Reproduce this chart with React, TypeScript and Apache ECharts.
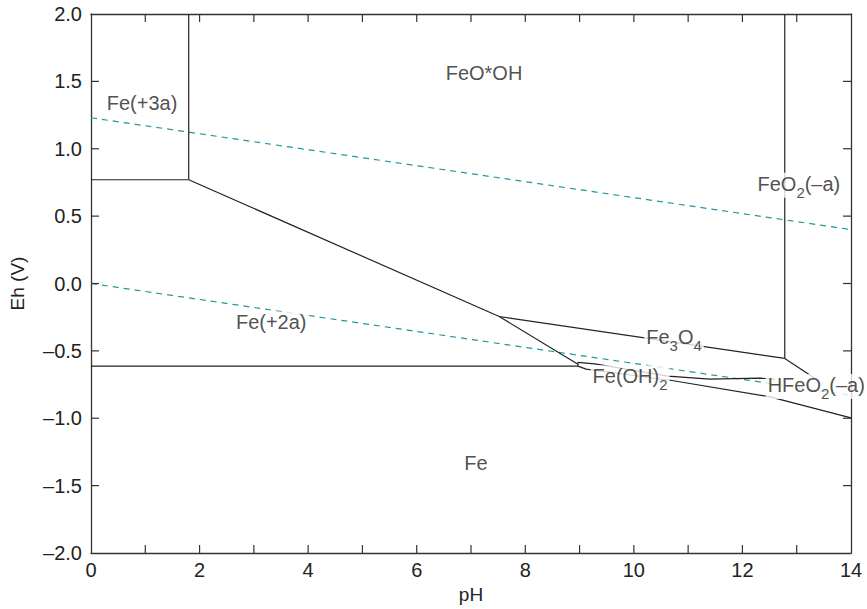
import React, { useEffect, useRef } from "react";
import * as echarts from "echarts";

// Boundaries of the Fe–H2O Pourbaix diagram: [pH, Eh (V)]
const fe3FeoohBoundary = [[1.8, 2.0], [1.8, 0.77]];
const fe3Fe2Boundary = [[0, 0.77], [1.8, 0.77]];
const fe2OxideBoundary = [[1.8, 0.77], [7.52, -0.245], [8.97, -0.6]];
const fe2FeBoundary = [[0, -0.613], [8.97, -0.613]];
const fe2FeOH2Boundary = [[8.97, -0.585], [8.97, -0.613]];
const magnetiteFeoohBoundary = [[7.52, -0.245], [12.78, -0.556]];
const feoohFeo2Boundary = [[12.78, 2.0], [12.78, -0.556]];
const magnetiteHfeo2Boundary = [[12.78, -0.556], [13.36, -0.71]];
const magnetiteFeOH2Boundary = [[8.97, -0.585], [9.28, -0.597], [10.63, -0.687], [11.4, -0.709], [12.32, -0.702], [12.6, -0.71]];
const feLowerBoundary = [[8.97, -0.613], [9.12, -0.635], [10.7, -0.72], [12.51, -0.841], [14.0, -0.997]];

// Water stability limits
const o2WaterLine = [[0, 1.23], [14, 0.4]];
const h2WaterLine = [[0, 0.0], [14, -0.83]];

// Tick values (inward ticks on all four sides)
const pHTicks = [1, 2, 3, 4, 5, 6, 7, 8, 9, 10, 11, 12, 13];
const ehTicks = [-1.5, -1.0, -0.5, 0.0, 0.5, 1.0, 1.5];

// Field labels: [pH, Eh, rich text]
const fieldLabels: [number, number, string][] = [
  [7.24, 1.55, "{n|FeO*OH}"],
  [0.94, 1.33, "{n|Fe(+3a)}"],
  [13.04, 0.73, "{n|FeO}{s|2}{n|(–a)}"],
  [3.32, -0.3, "{n|Fe(+2a)}"],
  [10.74, -0.41, "{n|Fe}{s|3}{n|O}{s|4}"],
  [9.93, -0.7, "{n|Fe(OH)}{s|2}"],
  [13.36, -0.765, "{n|HFeO}{s|2}{n|(–a)}"],
  [7.09, -1.34, "{n|Fe}"],
];

const FONT = "Liberation Sans, Arial, Helvetica, sans-serif";
const INK = "#222";
const TEAL = "#1f9a98";
const TICK_LEN = 8;

const fmtNum = (v: number, d: number) => (v < 0 ? "–" : "") + Math.abs(v).toFixed(d);

export default function App() {
  const ref = useRef<HTMLDivElement>(null);
  useEffect(() => {
    if (!ref.current) return;
    const chart = echarts.init(ref.current, undefined, { renderer: "svg" });
    const boundaryLine = (data: number[][]) => ({
      type: "line",
      data,
      showSymbol: false,
      symbol: "none",
      silent: true,
      lineStyle: { color: INK, width: 1.2 },
      z: 2,
    });
    const waterLine = (data: number[][]) => ({
      type: "line",
      data,
      showSymbol: false,
      symbol: "none",
      silent: true,
      lineStyle: { color: TEAL, width: 1.2, type: [6, 5] },
      z: 1,
    });
    const tickStyle = { stroke: "#333", lineWidth: 1.2 };
    const axisCommon = () => ({
      axisLine: { show: true, onZero: false, lineStyle: { color: "#333", width: 1.3 } },
      axisTick: { show: false },
      splitLine: { show: false },
    });
    chart.setOption({
      animation: false,
      backgroundColor: "#fff",
      textStyle: { fontFamily: FONT },
      grid: { left: 91, right: 16, top: 14, bottom: 56, containLabel: false, outerBoundsMode: "none" },
      xAxis: [
        {
          type: "value",
          min: 0,
          max: 14,
          interval: 1,
          position: "bottom",
          name: "pH",
          nameLocation: "middle",
          nameGap: 32,
          nameTextStyle: { fontSize: 19, color: INK, fontFamily: FONT },
          ...axisCommon(),
          axisLabel: {
            fontSize: 20,
            color: INK,
            margin: 7,
            fontFamily: FONT,
            formatter: (v: number) => (Math.round(v) % 2 === 0 ? String(v) : ""),
          },
        },
        {
          type: "value",
          min: 0,
          max: 14,
          interval: 1,
          position: "top",
          ...axisCommon(),
          axisLabel: { show: false },
        },
      ],
      yAxis: [
        {
          type: "value",
          min: -2,
          max: 2,
          interval: 0.5,
          position: "left",
          name: "Eh (V)",
          nameLocation: "middle",
          nameGap: 64,
          nameRotate: 90,
          nameTextStyle: { fontSize: 19, color: INK, fontFamily: FONT },
          ...axisCommon(),
          axisLabel: {
            fontSize: 20,
            color: INK,
            margin: 9,
            fontFamily: FONT,
            formatter: (v: number) => fmtNum(v, 1),
          },
        },
        {
          type: "value",
          min: -2,
          max: 2,
          interval: 0.5,
          position: "right",
          ...axisCommon(),
          axisLabel: { show: false },
        },
      ],
      series: [
        waterLine(o2WaterLine),
        waterLine(h2WaterLine),
        boundaryLine(fe3FeoohBoundary),
        boundaryLine(fe3Fe2Boundary),
        boundaryLine(fe2OxideBoundary),
        boundaryLine(fe2FeBoundary),
        boundaryLine(fe2FeOH2Boundary),
        boundaryLine(magnetiteFeoohBoundary),
        boundaryLine(feoohFeo2Boundary),
        boundaryLine(magnetiteHfeo2Boundary),
        boundaryLine(magnetiteFeOH2Boundary),
        boundaryLine(feLowerBoundary),
        {
          type: "custom",
          silent: true,
          clip: false,
          z: 5,
          encode: { x: 0, y: 1 },
          data: pHTicks.map((v) => [v, 0]),
          renderItem: (_params: any, api: any) => {
            const x = api.coord([api.value(0), 0])[0];
            const yb = api.coord([0, -2])[1];
            const yt = api.coord([0, 2])[1];
            return {
              type: "group",
              children: [
                { type: "line", shape: { x1: x, y1: yb, x2: x, y2: yb - TICK_LEN }, style: tickStyle },
                { type: "line", shape: { x1: x, y1: yt, x2: x, y2: yt + TICK_LEN }, style: tickStyle },
              ],
            };
          },
        },
        {
          type: "custom",
          silent: true,
          clip: false,
          z: 5,
          encode: { x: 0, y: 1 },
          data: ehTicks.map((v) => [0, v]),
          renderItem: (_params: any, api: any) => {
            const y = api.coord([0, api.value(1)])[1];
            const xl = api.coord([0, 0])[0];
            const xr = api.coord([14, 0])[0];
            return {
              type: "group",
              children: [
                { type: "line", shape: { x1: xl, y1: y, x2: xl + TICK_LEN, y2: y }, style: tickStyle },
                { type: "line", shape: { x1: xr, y1: y, x2: xr - TICK_LEN, y2: y }, style: tickStyle },
              ],
            };
          },
        },
        {
          type: "scatter",
          symbolSize: 0,
          silent: true,
          z: 10,
          data: fieldLabels.map(([x, y, t]) => ({ value: [x, y], label: { formatter: t } })),
          label: {
            show: true,
            position: "inside",
            backgroundColor: "#fff",
            padding: [1, 2, 1, 2],
            color: INK,
            rich: {
              n: { fontSize: 20, lineHeight: 23, verticalAlign: "top", color: INK, fontFamily: FONT },
              s: { fontSize: 15, lineHeight: 15, padding: [11, 0, 0, 0], verticalAlign: "top", color: INK, fontFamily: FONT },
            },
          },
        },
      ],
    });
    return () => chart.dispose();
  }, []);
  return <div ref={ref} style={{ width: 867, height: 609, position: "absolute", left: 0, top: 0 }} />;
}
